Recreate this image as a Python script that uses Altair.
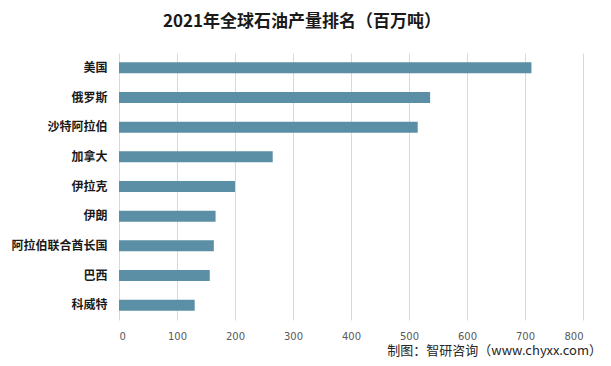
import altair as alt
import pandas as pd

countries = ["美国", "俄罗斯", "沙特阿拉伯", "加拿大", "伊拉克", "伊朗", "阿拉伯联合酋长国", "巴西", "科威特"]
values = [711.1, 536.4, 515.0, 265.0, 200.0, 166.5, 163.5, 156.5, 130.5]
x_ticks = [0, 100, 200, 300, 400, 500, 600, 700, 800]
title_text = "2021年全球石油产量排名（百万吨）"
source_text = "制图：智研咨询（www.chyxx.com）"

df = pd.DataFrame({"country": countries, "value": values})

cjk = "Noto Sans CJK SC"

bars = alt.Chart(df).mark_bar(size=11, color="#5b8fa6").encode(
    x=alt.X(
        "value:Q",
        scale=alt.Scale(domain=[0, 800], nice=False),
        axis=alt.Axis(
            values=x_ticks, grid=True, gridColor="#d9d9d9", gridWidth=1,
            domain=False, ticks=False, labelColor="#595959", labelFontSize=10,
            labelFont="DejaVu Sans", labelPadding=11, title=None,
        ),
    ),
    y=alt.Y(
        "country:N",
        sort=countries,
        axis=alt.Axis(
            domain=False, ticks=False, labelColor="#1a1a1a", labelFontSize=12,
            labelFont=cjk, labelFontWeight="bold", labelPadding=12, title=None,
        ),
    ),
)

title = alt.Chart(pd.DataFrame({"t": [title_text]})).mark_text(
    font=cjk, fontSize=17, fontWeight="bold", color="#1a1a1a", align="center", baseline="middle"
).encode(text="t:N", x=alt.value(183), y=alt.value(-31))

source = alt.Chart(pd.DataFrame({"t": [source_text]})).mark_text(
    font=cjk, fontSize=13, color="#262626", align="right", baseline="middle"
).encode(text="t:N", x=alt.value(483), y=alt.value(298))

chart = alt.layer(bars, title, source).properties(
    width=464, height=267,
    padding={"left": 111, "top": 45, "right": 20, "bottom": 43},
    autosize="none",
    background="white",
).configure_view(stroke=None)

chart.save("out.html", embed_options={"renderer": "svg", "actions": False})
